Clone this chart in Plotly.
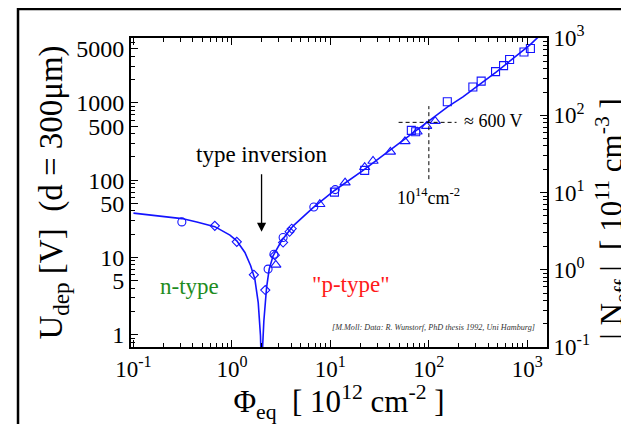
import math
import plotly.graph_objects as go

# ---------------- data ----------------
# fluence in 1e12 cm^-2, depletion voltage in V (d = 300 um)
curve_x = [0.1, 0.2, 0.31, 0.44, 0.67, 0.955, 1.12, 1.355, 1.55, 1.71, 1.85, 1.95, 2.0,
           2.05, 2.11, 2.25, 2.39, 2.62, 3.19, 4.19, 6.68, 11.1, 21.5, 46.8, 100, 155,
           222, 486, 1058, 1300]
curve_y = [37.4, 33.8, 31.8, 28.8, 25.0, 19.4, 16.4, 11.6, 7.8, 5.24, 2.6, 0.97, 0.3,
           0.7, 1.5, 4.1, 7.06, 10.5, 16.4, 25.6, 44.1, 74, 134, 282, 585, 888,
           1199, 2524, 5585, 7200]

circles_x = [0.31, 2.33, 2.67, 3.31, 6.79, 11.2]
circles_y = [28.8, 7.06, 11.0, 18.1, 45, 75.4]

diamonds_x = [0.67, 1.12, 1.67, 2.18, 2.73, 3.31, 3.85, 4.05]
diamonds_y = [25.6, 15.9, 5.96, 3.78, 10.7, 15.6, 21.5, 23.5]

triangles_x = [2.79, 7.81, 14.1, 22.3, 27.1, 40.7, 57.2, 75.9, 95.0, 116]
triangles_y = [8.0, 48.8, 93, 147, 177, 232, 318, 423, 500, 581]

squares_x = [11.0, 22.3, 66.4, 73.5, 154, 280, 340, 476, 574, 661, 925, 1075]
squares_y = [70, 134, 441, 423, 1033, 1605, 1915, 2540, 3040, 3650, 4550, 5060]

# crosshair at 1e14 cm^-2 / ~600 V
cross_h_x = [49.3, 191]
cross_h_y = [560, 560]
cross_v_x = [100, 100]
cross_v_y = [103, 909]

inversion_fluence = 2.0

x_tickvals = [0.1, 1, 10, 100, 1000]
x_ticktext = ["10<sup>-1</sup>", "10<sup>0</sup>", "10<sup>1</sup>", "10<sup>2</sup>", "10<sup>3</sup>"]
y_tickvals = [1, 5, 10, 50, 100, 500, 1000, 5000]
y_ticktext = ["1", "5", "10", "50", "100", "500", "1000", "5000"]
y2_tickvals = [0.1, 1, 10, 100, 1000]
y2_ticktext = ["10<sup>-1</sup>", "10<sup>0</sup>", "10<sup>1</sup>", "10<sup>2</sup>", "10<sup>3</sup>"]

minor_vals = [d * 10 ** k for k in range(-2, 5) for d in range(2, 10)]

BLUE = "#1414ff"
FONT = "Liberation Serif"

fig = go.Figure()

fig.add_trace(go.Scatter(x=curve_x, y=curve_y, mode="lines",
                         line=dict(color=BLUE, width=1.6), hoverinfo="skip"))

def markers(xs, ys, symbol, size):
    fig.add_trace(go.Scatter(x=xs, y=ys, mode="markers",
                             marker=dict(symbol=symbol, size=size, color=BLUE,
                                         line=dict(color=BLUE, width=1.1))))

markers(circles_x, circles_y, "circle-open", 8)
markers(diamonds_x, diamonds_y, "diamond-open", 7)
markers(triangles_x, triangles_y, "triangle-up-open", 9)
markers(squares_x, squares_y, "square-open", 8)

for xs, ys in [(cross_h_x, cross_h_y), (cross_v_x, cross_v_y)]:
    fig.add_trace(go.Scatter(x=xs, y=ys, mode="lines",
                             line=dict(color="black", width=1, dash="4px,3px"),
                             hoverinfo="skip"))

# hidden trace to anchor the right-hand axis
fig.add_trace(go.Scatter(x=[1], y=[1], yaxis="y2", mode="markers",
                         marker=dict(opacity=0), hoverinfo="skip"))

axis_common = dict(type="log", showline=True, linecolor="black", linewidth=2,
                   ticks="inside", ticklen=7, tickwidth=1.3, tickcolor="black",
                   showgrid=False, zeroline=False, automargin=False,
                   tickfont=dict(family=FONT, size=23, color="black"))
minor_common = dict(tickmode="array", tickvals=minor_vals, ticks="inside",
                    ticklen=4, tickwidth=1, tickcolor="black", showgrid=False)

# page body has an 8px margin: figure sized/margined to compensate
fig.update_layout(
    width=621, height=416, autosize=False,
    margin=dict(l=123, r=82, t=30, b=77),
    paper_bgcolor="white", plot_bgcolor="white",
    showlegend=False,
    xaxis=dict(axis_common, range=[-1.025, 3.2], mirror="ticks",
               tickmode="array", tickvals=x_tickvals, ticktext=x_ticktext,
               minor=minor_common,
               title=dict(text="Φ<sub>eq</sub>  [ 10<sup>12</sup> cm<sup>-2</sup> ]",
                          font=dict(family=FONT, size=31, color="black"), standoff=4)),
    yaxis=dict(axis_common, range=[math.log10(0.692), math.log10(6920)],
               tickmode="array", tickvals=y_tickvals, ticktext=y_ticktext,
               tickfont=dict(family=FONT, size=24, color="black"),
               minor=minor_common,
               title=dict(text="U<sub>dep</sub> [V]  (d = 300μm)",
                          font=dict(family=FONT, size=33, color="black"), standoff=4)),
    yaxis2=dict(axis_common, range=[-1, 3], overlaying="y", side="right",
                tickmode="array", tickvals=y2_tickvals, ticktext=y2_ticktext,
                minor=minor_common),
)

# outer frame
fig.add_shape(type="rect", xref="paper", yref="paper",
              x0=-0.2716, y0=-0.35, x1=1.4, y1=1.094,
              line=dict(color="black", width=2.5), fillcolor="rgba(0,0,0,0)", layer="below")

lg = math.log10
ann = []
ann.append(dict(x=1.157, y=0.414, xref="paper", yref="paper", textangle=-90,
                xanchor="center", yanchor="middle",
                text="| N<sub>eff</sub> |  [ 10<sup>11</sup> cm<sup>-3</sup> ]",
                showarrow=False, font=dict(family=FONT, size=31, color="black")))
ann.append(dict(x=lg(inversion_fluence), y=lg(21.4), xref="x", yref="y",
                ax=0, ay=-59, axref="pixel", ayref="pixel", text="",
                showarrow=True, arrowhead=2, arrowsize=1.4, arrowwidth=1.3, arrowcolor="black"))
ann.append(dict(x=lg(inversion_fluence), y=lg(218), xref="x", yref="y", text="type inversion",
                showarrow=False, font=dict(family=FONT, size=23, color="black")))
ann.append(dict(x=lg(215), y=lg(582), xref="x", yref="y", text="≈ 600 V", xanchor="left",
                showarrow=False, font=dict(family=FONT, size=18, color="black")))
ann.append(dict(x=lg(100), y=lg(62), xref="x", yref="y",
                text="10<sup>14</sup>cm<sup>-2</sup>",
                showarrow=False, font=dict(family=FONT, size=18, color="black")))
ann.append(dict(x=lg(0.375), y=lg(4.15), xref="x", yref="y", text="n-type",
                showarrow=False, font=dict(family=FONT, size=23, color="#1e8c1e")))
ann.append(dict(x=lg(16.1), y=lg(4.4), xref="x", yref="y", text="\"p-type\"",
                showarrow=False, font=dict(family=FONT, size=23, color="#ff1a1a")))
ann.append(dict(x=lg(1250), y=lg(1.24), xref="x", yref="y", xanchor="right",
                text="<i>[M.Moll: Data: R. Wunstorf, PhD thesis 1992, Uni Hamburg]</i>",
                showarrow=False, font=dict(family=FONT, size=8.2, color="#333333")))
fig.update_layout(annotations=ann)

fig.write_html("out.html")
